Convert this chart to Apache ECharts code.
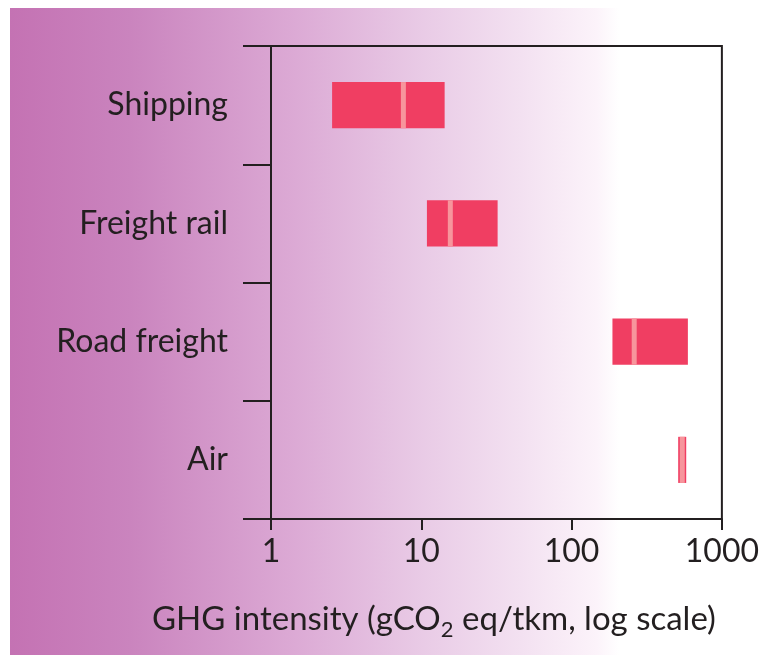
<!DOCTYPE html>
<html>
<head>
<meta charset="utf-8">
<script src="https://cdn.jsdelivr.net/npm/echarts@6/dist/echarts.min.js"></script>
<style>
html,body{margin:0;padding:0;background:#fff;}
#chart{width:762px;height:655px;}
</style>
</head>
<body>
<div id="chart"></div>
<script>
const categories = ['Shipping', 'Freight rail', 'Road freight', 'Air'];
const lowValues = [2.55, 10.9, 187, 512];
const highValues = [14.3, 32.2, 594, 579];
const medianValues = [7.6, 15.6, 261, 545];
const xTickValues = [1, 10, 100, 1000];
const axisTitle = 'GHG intensity (gCO';
const axisTitleSub = '2';
const axisTitleEnd = ' eq/tkm, log scale)';

const ink = '#231f20';
const FONT = 'Lato';

const chart = echarts.init(document.getElementById('chart'), null, {renderer: 'canvas'});

const data = categories.map((c, i) => [i, lowValues[i], highValues[i], medianValues[i]]);

chart.setOption({
  backgroundColor: 'transparent',
  animation: false,
  graphic: [{
    type: 'rect', z: -100, silent: true,
    shape: {x: 10, y: 8, width: 752, height: 647},
    style: {
      fill: {
        type: 'linear', x: 0, y: 0, x2: 1, y2: 0,
        colorStops: [
          {offset: 0, color: '#c472b3'},
          {offset: 0.16, color: '#ca84be'},
          {offset: 0.38, color: '#dcaad5'},
          {offset: 0.55, color: '#e9cbe6'},
          {offset: 0.68, color: '#f3e1f1'},
          {offset: 0.78, color: '#fcf3fa'},
          {offset: 0.81, color: '#ffffff'},
          {offset: 1, color: '#ffffff'}
        ]
      }
    }
  }],
  title: {
    text: '{a|' + axisTitle + '}{s|' + axisTitleSub + '}{a|' + axisTitleEnd + '}',
    left: 147, top: 593,
    textStyle: {
      fontWeight: 'normal',
      rich: {
        a: {fontFamily: FONT, fontSize: 33, fontWeight: 'normal', color: ink, lineHeight: 42},
        s: {fontFamily: FONT, fontSize: 22, fontWeight: 'normal', color: ink, lineHeight: 42, padding: [22, 0, 0, 0]}
      }
    }
  },
  grid: {
    left: 271, right: 39, top: 46, bottom: 136,
    show: true, borderColor: ink, borderWidth: 2, backgroundColor: 'transparent'
  },
  xAxis: {
    type: 'log', logBase: 10, min: 1, max: 1000,
    axisLine: {show: true, lineStyle: {color: ink, width: 2}},
    axisTick: {show: true, length: 11, lineStyle: {color: ink, width: 2}},
    splitLine: {show: false},
    axisLabel: {
      fontFamily: FONT, fontSize: 32, color: ink, margin: 17,
      formatter: v => String(Math.round(v)),
      customValues: xTickValues
    }
  },
  yAxis: {
    type: 'category', data: categories, inverse: true,
    axisLine: {show: true, lineStyle: {color: ink, width: 2}},
    axisTick: {show: true, length: 28, lineStyle: {color: ink, width: 2}},
    splitLine: {show: false},
    axisLabel: {fontFamily: FONT, fontSize: 32, color: ink, margin: 43, padding: [6, 0, 0, 0]}
  },
  series: [{
    type: 'custom',
    data: data,
    encode: {x: [1, 2, 3], y: 0},
    renderItem: function (params, api) {
      const idx = api.value(0);
      const lo = api.coord([api.value(1), idx]);
      const hi = api.coord([api.value(2), idx]);
      const md = api.coord([api.value(3), idx]);
      const band = api.size([1, 1], [1, idx])[1];
      const h = band * 0.39;
      return {
        type: 'group',
        children: [
          {type: 'rect', shape: {x: lo[0], y: lo[1] - h / 2, width: hi[0] - lo[0], height: h}, style: {fill: '#f03e62'}},
          {type: 'rect', shape: {x: md[0] - 2.5, y: lo[1] - h / 2, width: 5, height: h}, style: {fill: '#f7959c'}}
        ]
      };
    }
  }]
});
</script>
</body>
</html>
